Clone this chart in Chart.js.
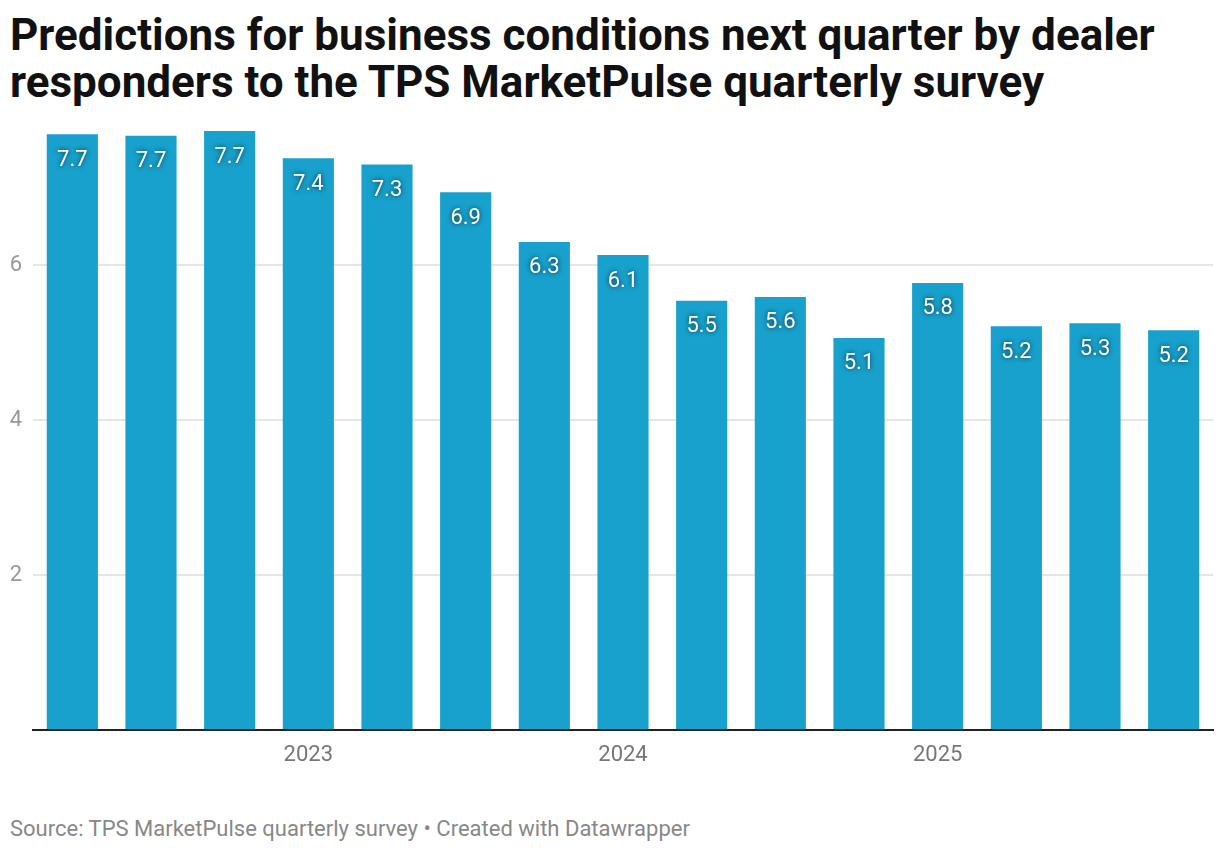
<!DOCTYPE html>
<html>
<head>
<meta charset="utf-8">
<script src="https://cdn.jsdelivr.net/npm/chart.js@4.4.1/dist/chart.umd.min.js"></script>
<style>
  body { margin: 0; background: #fff; width: 1220px; height: 852px; position: relative; overflow: hidden; font-family: Roboto, sans-serif; }
  #title { position: absolute; left: 10px; top: 12px; font-size: 44px; line-height: 47px; font-weight: 700; color: #111; white-space: nowrap; }
  #wrap { position: absolute; left: 0; top: 86px; width: 1220px; height: 714px; }
  #source { position: absolute; left: 10px; top: 818px; font-size: 22px; line-height: 22px; color: #888; white-space: nowrap; }
</style>
</head>
<body>
<div id="title">Predictions for business conditions next quarter by dealer<br>responders to the TPS MarketPulse quarterly survey</div>
<div id="wrap"><canvas id="chart"></canvas></div>
<div id="source">Source: TPS MarketPulse quarterly survey • Created with Datawrapper</div>
<script>
// quarters, Q2 2022 .. Q4 2025
const quarters = [
  "Q2 2022", "Q3 2022", "Q4 2022",
  "Q1 2023", "Q2 2023", "Q3 2023", "Q4 2023",
  "Q1 2024", "Q2 2024", "Q3 2024", "Q4 2024",
  "Q1 2025", "Q2 2025", "Q3 2025", "Q4 2025"
];
// average prediction score
const predictions = [7.69, 7.67, 7.73, 7.38, 7.30, 6.94, 6.30, 6.13, 5.54, 5.59, 5.06, 5.77, 5.21, 5.25, 5.16];
const yTicks = [2, 4, 6];

// white labels with a dark halo just inside the top of each bar
const valueLabels = {
  id: 'valueLabels',
  afterDatasetsDraw(chart) {
    const ctx = chart.ctx;
    const meta = chart.getDatasetMeta(0);
    ctx.save();
    ctx.font = '22px Roboto';
    ctx.textAlign = 'center';
    ctx.textBaseline = 'middle';
    ctx.fillStyle = '#fff';
    ctx.shadowColor = 'rgba(0,0,0,0.75)';
    ctx.shadowBlur = 5;
    meta.data.forEach((bar, i) => {
      ctx.fillText(predictions[i].toFixed(1), bar.x, bar.y + 26);
    });
    ctx.restore();
  }
};

new Chart(document.getElementById('chart'), {
  type: 'bar',
  data: {
    labels: quarters,
    datasets: [{
      data: predictions,
      backgroundColor: '#18a1cd',
      categoryPercentage: 1,
      barPercentage: 0.65
    }]
  },
  options: {
    responsive: true,
    maintainAspectRatio: false,
    animation: false,
    layout: { padding: { top: 0, right: 7, left: 0, bottom: 0 } },
    plugins: { legend: { display: false }, tooltip: { enabled: false } },
    scales: {
      x: {
        grid: { display: false, drawTicks: false },
        border: { display: true, color: '#222', width: 2 },
        ticks: {
          autoSkip: false,
          maxRotation: 0,
          padding: 12,
          color: '#777',
          font: { family: 'Roboto', size: 22 },
          callback: function(v, i) {
            const q = quarters[i];
            return q.startsWith('Q1') ? q.split(' ')[1] : '';
          }
        },
        afterFit: function(scale) { scale.height = 70; }
      },
      y: {
        min: 0,
        max: 8,
        border: { display: false },
        grid: {
          drawTicks: false,
          lineWidth: 2,
          color: ctx => yTicks.includes(ctx.tick.value) ? '#e6e6e6' : 'rgba(0,0,0,0)'
        },
        ticks: {
          stepSize: 2,
          padding: 11,
          color: '#999',
          font: { family: 'Roboto', size: 22 },
          callback: v => yTicks.includes(v) ? String(v) : ''
        },
        afterFit: function(scale) { scale.width = 33; }
      }
    }
  },
  plugins: [valueLabels]
});
</script>
</body>
</html>
